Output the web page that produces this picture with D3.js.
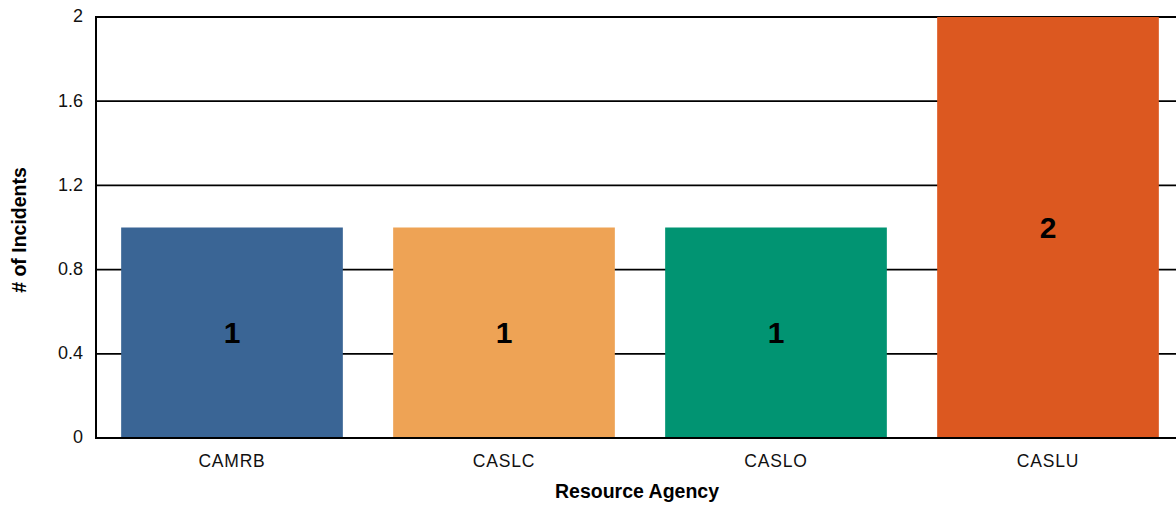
<!DOCTYPE html>
<html>
<head>
<meta charset="utf-8">
<script src="https://cdn.jsdelivr.net/npm/d3@7"></script>
<style>
  body { margin: 0; background: #fff; }
  svg { display: block; font-family: "Liberation Sans", Arial, sans-serif; }
</style>
</head>
<body>
<svg id="chart" width="1176" height="506"></svg>
<script>
const agencies = ["CAMRB", "CASLC", "CASLO", "CASLU"]
const incidents = [1, 1, 1, 2]
const barColors = ["#3a6595", "#eea355", "#019472", "#dc5820"]
const yTicks = [0, 0.4, 0.8, 1.2, 1.6, 2]

const svg = d3.select("#chart")
const plotLeft = 96, plotTop = 17, plotBottom = 438, plotRight = 1184

const x = d3.scaleBand().domain(agencies).range([plotLeft, plotRight])
  .paddingInner(0.185).paddingOuter(0.0925)
const y = d3.scaleLinear().domain([0, 2]).range([plotBottom, plotTop])

// gridlines
svg.append("g")
  .selectAll("line")
  .data(yTicks)
  .enter()
  .append("line")
  .attr("x1", plotLeft).attr("x2", 1176)
  .attr("y1", d => y(d)).attr("y2", d => y(d))
  .attr("stroke", "#000").attr("stroke-width", 1.8)

// bars
svg.append("g")
  .selectAll("rect")
  .data(agencies)
  .enter()
  .append("rect")
  .attr("x", d => x(d))
  .attr("y", (d, i) => y(incidents[i]))
  .attr("width", x.bandwidth())
  .attr("height", (d, i) => y(0) - y(incidents[i]))
  .attr("fill", (d, i) => barColors[i])

// bar value labels
svg.append("g")
  .selectAll("text")
  .data(agencies)
  .enter()
  .append("text")
  .attr("x", d => x(d) + x.bandwidth() / 2)
  .attr("y", (d, i) => (y(incidents[i]) + y(0)) / 2)
  .attr("dy", "0.34em")
  .attr("text-anchor", "middle")
  .attr("font-size", "30px")
  .attr("font-weight", "bold")
  .text((d, i) => incidents[i])

// axes lines
svg.append("line")
  .attr("x1", plotLeft).attr("x2", plotLeft).attr("y1", plotTop - 1).attr("y2", plotBottom + 1)
  .attr("stroke", "#000").attr("stroke-width", 2)
svg.append("line")
  .attr("x1", plotLeft).attr("x2", 1176).attr("y1", plotBottom).attr("y2", plotBottom)
  .attr("stroke", "#000").attr("stroke-width", 2)

// y tick labels
svg.append("g")
  .selectAll("text")
  .data(yTicks)
  .enter()
  .append("text")
  .attr("x", 83)
  .attr("y", d => y(d))
  .attr("dy", "0.3em")
  .attr("text-anchor", "end")
  .attr("font-size", "18px")
  .attr("fill", "#111")
  .text(d => d3.format("~g")(d))

// x tick labels
svg.append("g")
  .selectAll("text")
  .data(agencies)
  .enter()
  .append("text")
  .attr("x", d => x(d) + x.bandwidth() / 2)
  .attr("y", 467)
  .attr("text-anchor", "middle")
  .attr("font-size", "17.5px")
  .attr("letter-spacing", "0.8px")
  .attr("fill", "#111")
  .text(d => d)

// axis titles
svg.append("text")
  .attr("x", 637).attr("y", 498)
  .attr("text-anchor", "middle")
  .attr("font-size", "19.5px")
  .attr("font-weight", "bold")
  .text("Resource Agency")

svg.append("text")
  .attr("transform", "translate(26, 230) rotate(-90)")
  .attr("text-anchor", "middle")
  .attr("font-size", "19.5px")
  .attr("font-weight", "bold")
  .text("# of Incidents")
</script>
</body>
</html>
